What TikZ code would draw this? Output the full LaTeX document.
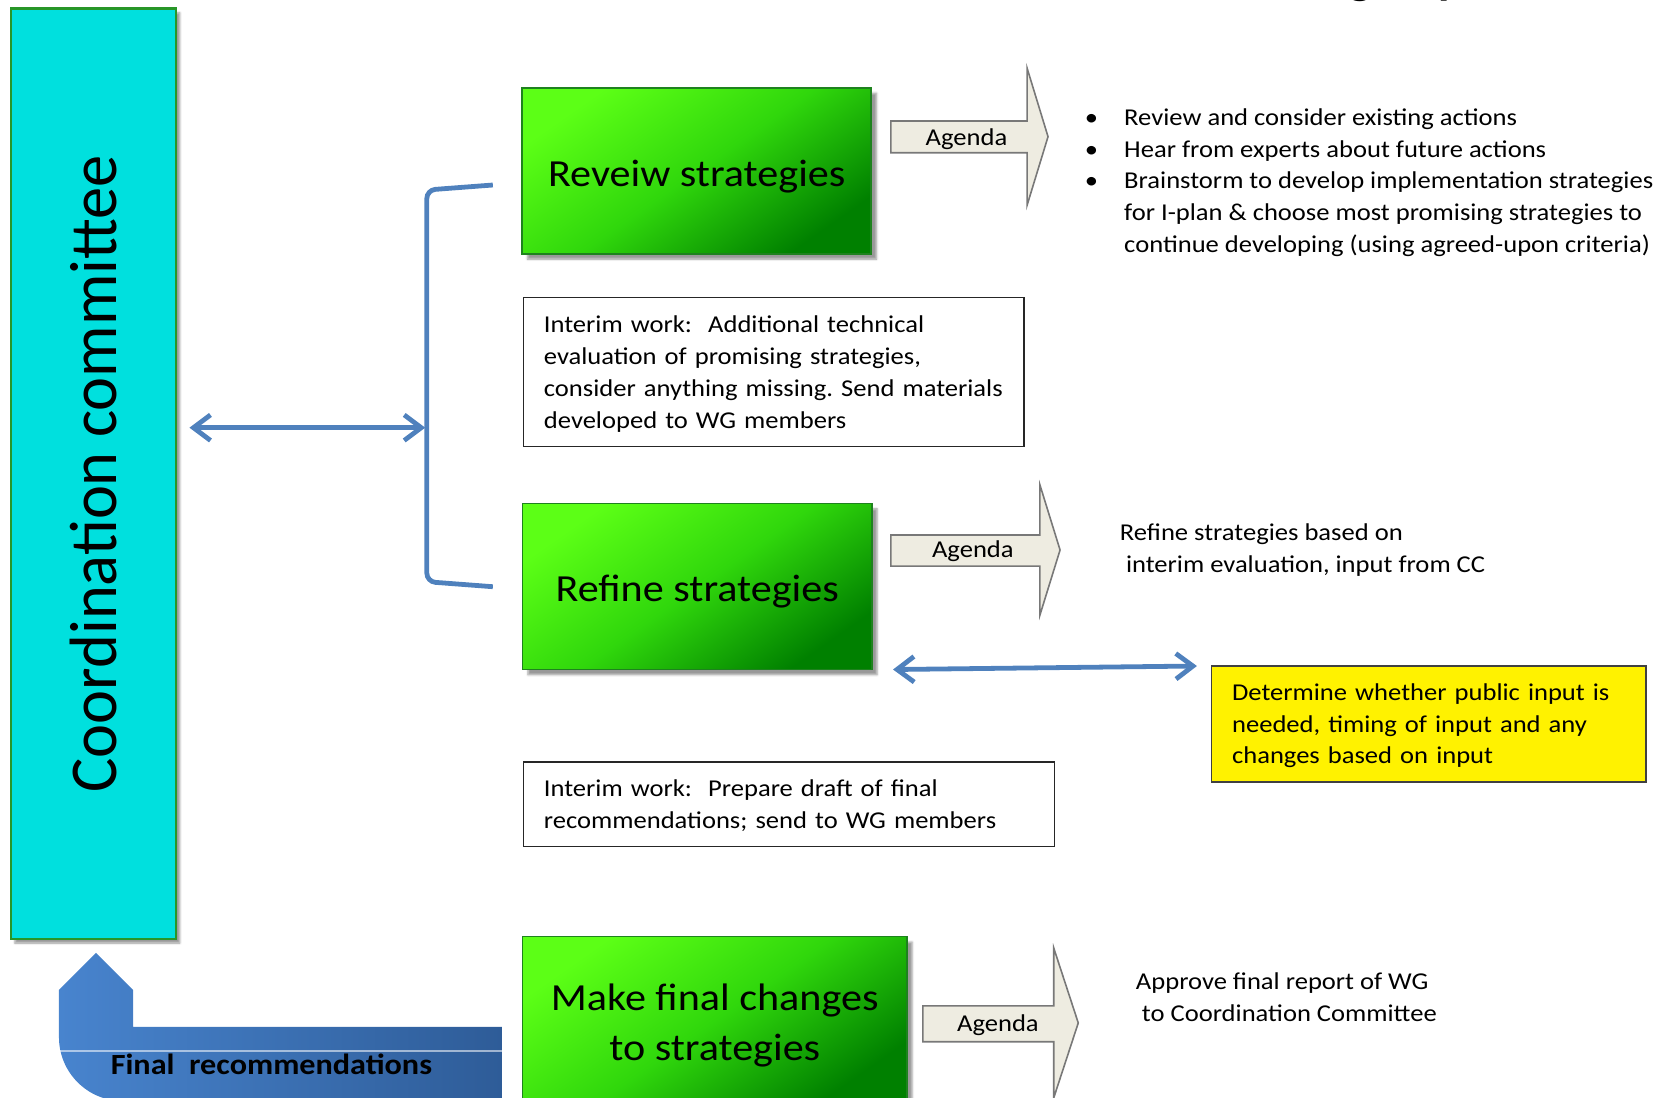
\documentclass[tikz,border=0pt]{standalone}
\usepackage{fontspec}
\setmainfont{Carlito}[FakeStretch=1.1]
\newfontfamily\ccfont{Carlito}
\usetikzlibrary{arrows.meta,shadows.blur}

\definecolor{ccfill}{RGB}{0,224,222}
\definecolor{ccline}{RGB}{40,150,40}
\definecolor{phaselight}{RGB}{92,255,22}
\definecolor{phasemid}{RGB}{48,215,12}
\definecolor{phasedark}{RGB}{0,128,0}
\definecolor{phaseline}{RGB}{30,130,30}
\definecolor{agendafill}{RGB}{238,236,225}
\definecolor{agendaline}{RGB}{120,120,120}
\definecolor{linkblue}{RGB}{79,129,189}
\definecolor{bandlight}{RGB}{72,132,206}
\definecolor{banddark}{RGB}{46,92,152}

\begin{document}
\frenchspacing
\begin{tikzpicture}[x=1pt, y=-1pt,
    box/.style={inner sep=0pt, outer sep=0pt},
    cc/.style={box, draw=ccline, line width=2pt, fill=ccfill,
      minimum width=155pt, minimum height=874pt,
      blur shadow={shadow xshift=4pt, shadow yshift=-4pt, shadow opacity=40}},
    phase/.style={box, draw=phaseline, line width=1.5pt,
      top color=phaselight, bottom color=phasedark, middle color=phasemid, shading angle=35,
      minimum height=156pt,
      blur shadow={shadow xshift=5pt, shadow yshift=-5pt, shadow opacity=40}},
    phasetext/.style={align=center, yshift=-5pt, font=\fontsize{36}{47}\selectfont},
    interim/.style={box, draw=black!85, line width=1.2pt, fill=white, align=left,
      font=\fontsize{22.7}{30}\selectfont},
    agenda/.style={draw=agendaline, line width=1.5pt, fill=agendafill},
    agtext/.style={font=\fontsize{22.7}{30}\selectfont},
    note/.style={anchor=base west, inner sep=0pt, font=\fontsize{22.7}{30}\selectfont},
    link/.style={draw=linkblue, line width=4.5pt,
      {Straight Barb[length=16pt,width=24pt]}-{Straight Barb[length=16pt,width=24pt]}}]
  \useasboundingbox (0,0) rectangle (1568,1031.5);
  \clip (0,0) rectangle (1568,1031.5);

  % title, cut by the top edge
  \node[anchor=base west, inner sep=0pt, font=\bfseries\fontsize{40}{40}\selectfont] (title) at (1268,-5) {group};

  % committee
  \node[cc] (cc) at (87.5,445) {};
  \node[font=\ccfont\fontsize{60.5}{64}\selectfont, rotate=90, yscale=1.04] (cctext) at (cc.center) {Coordination committee};

  % phases
  \node[phase, minimum width=328pt, label={[phasetext]center:Reveiw strategies}] (rev) at (654.5,160.5) {};
  \node[phase, minimum width=328pt, label={[phasetext]center:Refine strategies}] (ref) at (655,551) {};
  \node[phase, minimum width=361pt, label={[phasetext]center:Make final changes\\to strategies}] (fin) at (671.5,958) {};

  % interim work
  \node[interim, minimum width=470pt, minimum height=140pt, text width=432pt] (int1) at (727,349.6)
    {\rule{0pt}{20pt}Interim work:\ \ Additional technical\\ evaluation of promising strategies,\\ \mbox{consider anything missing. Send materials}\\ developed to WG members};
  \node[interim, minimum width=499pt, minimum height=79pt, text width=461pt] (int2) at (741.5,755.5)
    {\rule{0pt}{19pt}Interim work:\ \ Prepare draft of final\\ recommendations; send to WG members};
  \node[interim, fill=yellow, draw=black!75, minimum width=408pt, minimum height=109pt, text width=370pt] (pub) at (1342.5,680.2)
    {\rule{0pt}{19pt}Determine whether public input is\\ needed, timing of input and any\\ changes based on input};

  % agenda arrows
  \draw[agenda] (837,113.7) -- (965,113.7) -- (965,64.2) -- (984.6,128.4) -- (965,192.6) -- (965,143.5) -- (837,143.5) -- cycle;
  \draw[agenda] (837,502.6) -- (977,502.6) -- (977,455.6) -- (995.9,516.7) -- (977,577.8) -- (977,531.8) -- (837,531.8) -- cycle;
  \draw[agenda] (867,945) -- (990,945) -- (990,890.7) -- (1013,961) -- (990,1031.3) -- (990,978.7) -- (867,978.7) -- cycle;
  \node[agtext] (ag1) at (908,130.5) {Agenda};
  \node[agtext] (ag2) at (914,518) {Agenda};
  \node[agtext] (ag3) at (937.5,963.5) {Agenda};

  % notes
  \node[note] (todo) at (1019,117.5) {\begin{tabular}[t]{@{}p{37pt}@{}l@{}}
      \textbullet & Review and consider existing actions\\
      \textbullet & Hear from experts about future actions\\
      \textbullet & Brainstorm to develop implementation strategies\\
                  & for I-plan \& choose most promising strategies to\\
                  & continue developing (using agreed-upon criteria)
    \end{tabular}};
  \node[note] (refnote) at (1052,508) {\begin{tabular}[t]{@{}l@{}}Refine strategies based on\\\ interim evaluation, input from CC\end{tabular}};
  \node[note] (apnote) at (1067,929.5) {\begin{tabular}[t]{@{}l@{}}Approve final report of WG\\\ to Coordination Committee\end{tabular}};

  % links
  \coordinate (brtop) at (463,173.8);
  \coordinate (brbot) at (463,551.2);
  \coordinate (brmid) at (399.5,401.8);
  \draw[linkblue, line width=4.5pt, rounded corners=8pt] (brtop) -- (401,178.5) -- (401,546.5) -- (brbot);
  \draw[link, shorten <=13pt] (cc.east |- brmid) -- (brmid);
  \draw[link] ([xshift=20pt]ref.south east) -- ([xshift=-14pt]pub.north west);

  % final recommendations
  \shade[left color=bandlight, right color=banddark] (471.6,964.8) -- (125,964.8) -- (125,930) -- (90.2,895.3) -- (55.4,930)
    -- (55.4,974.4) arc[start angle=180, end angle=90, radius=60] -- (471.6,1034.4) -- cycle;
  \draw[white, opacity=.55, line width=1pt] (56,987.4) -- (471.6,987.4);
  \node[font=\bfseries\fontsize{27.5}{30}\selectfont] (finrec) at (255,1000) {Final\ \ recommendations};
\end{tikzpicture}
\end{document}
